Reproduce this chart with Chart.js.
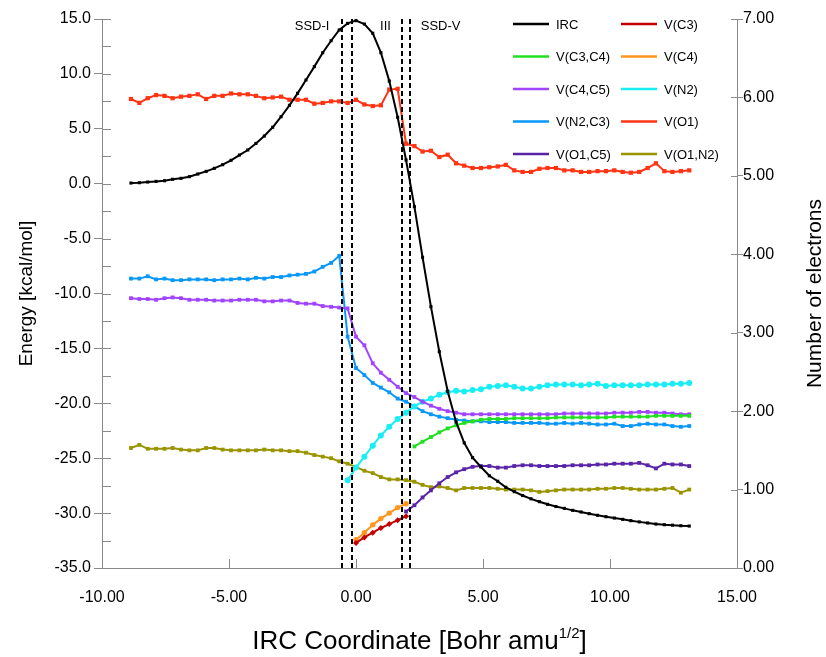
<!DOCTYPE html>
<html>
<head>
<meta charset="utf-8">
<script src="https://cdn.jsdelivr.net/npm/chart.js@4.4.1/dist/chart.umd.min.js"></script>
<style>
  html, body { margin: 0; padding: 0; background: #fff; }
  #wrap { width: 826px; height: 657px; }
</style>
</head>
<body>
<div id="wrap"><canvas id="chart" width="826" height="657"></canvas></div>
<script>
// IRC coordinate of every point (Bohr amu^1/2)
const ircX = [-8.86, -8.53, -8.20, -7.87, -7.54, -7.22, -6.89, -6.56, -6.23, -5.90, -5.58, -5.25, -4.92, -4.59,
  -4.26, -3.94, -3.61, -3.28, -2.95, -2.62, -2.30, -1.97, -1.64, -1.31, -0.98, -0.66, -0.33, 0.00,
  0.33, 0.66, 0.98, 1.31, 1.64, 1.97, 2.30, 2.62, 2.95, 3.28, 3.61, 3.94, 4.26, 4.59, 4.92, 5.25,
  5.58, 5.90, 6.23, 6.56, 6.89, 7.22, 7.54, 7.87, 8.20, 8.53, 8.86, 9.18, 9.51, 9.84, 10.17, 10.50,
  10.82, 11.15, 11.48, 11.81, 12.14, 12.46, 12.79, 13.12];

// energy profile (kcal/mol), left axis
const ircEnergy = [0.06, 0.09, 0.15, 0.21, 0.27, 0.40, 0.49, 0.64, 0.88, 1.12, 1.40, 1.73, 2.13, 2.61,
  3.07, 3.67, 4.34, 5.14, 6.10, 7.14, 8.23, 9.44, 10.66, 11.93, 13.02, 14.00, 14.60, 14.85,
  14.54, 13.70, 11.93, 9.35, 6.05, 2.16, -2.09, -6.70, -11.20, -15.30, -18.90, -21.70, -23.60, -24.95,
  -25.80, -26.60, -27.10, -27.65, -28.05, -28.40, -28.70, -28.96, -29.20, -29.40, -29.57, -29.75,
  -29.90, -30.05, -30.20, -30.33, -30.45, -30.57, -30.69, -30.80, -30.90, -31.00, -31.06, -31.10,
  -31.15, -31.18];

// basin populations (electrons), right axis; each starts at the given index of ircX
const vC3 = [0.32, 0.39, 0.45, 0.51, 0.56, 0.61, 0.66];
const vC3Start = 27;
const vC3C4 = [1.55, 1.61, 1.67, 1.73, 1.78, 1.82, 1.85, 1.87, 1.89, 1.90, 1.90, 1.90, 1.91, 1.91, 1.91,
  1.91, 1.91, 1.92, 1.92, 1.92, 1.92, 1.92, 1.92, 1.92, 1.93, 1.93, 1.93, 1.93, 1.93, 1.94, 1.94, 1.94,
  1.94, 1.94];
const vC3C4Start = 34;
const vC4 = [0.36, 0.45, 0.55, 0.63, 0.70, 0.77, 0.82];
const vC4Start = 27;
const vC4C5 = [3.44, 3.43, 3.43, 3.42, 3.44, 3.45, 3.44, 3.42, 3.42, 3.42, 3.41, 3.41, 3.41, 3.42, 3.42,
  3.42, 3.40, 3.40, 3.41, 3.41, 3.38, 3.37, 3.37, 3.34, 3.33, 3.32,
  3.31, 2.95, 2.84, 2.61, 2.49, 2.40, 2.31,
  2.23, 2.18, 2.12, 2.07, 2.03, 2.00, 1.98, 1.96, 1.96, 1.96, 1.96, 1.96, 1.96, 1.96, 1.96, 1.96, 1.96,
  1.96, 1.96, 1.97, 1.97, 1.97, 1.97, 1.97, 1.97, 1.98, 1.98, 1.98, 1.99, 1.99, 1.98, 1.98, 1.97, 1.96, 1.96];
const vC4C5Start = 0;
const vN2 = [1.12, 1.28, 1.42, 1.56, 1.69, 1.80, 1.90,
  1.98, 2.06, 2.12, 2.16, 2.21, 2.24, 2.26, 2.25, 2.27, 2.28, 2.31, 2.32, 2.33, 2.31, 2.29, 2.29, 2.31,
  2.33, 2.34, 2.34, 2.34, 2.33, 2.34, 2.35, 2.32, 2.33, 2.33, 2.33, 2.33, 2.34, 2.34, 2.34, 2.35, 2.35, 2.36];
const vN2Start = 26;
const vN2C3 = [3.69, 3.69, 3.72, 3.68, 3.69, 3.67, 3.67, 3.68, 3.68, 3.68, 3.67, 3.68, 3.68, 3.69, 3.68,
  3.70, 3.69, 3.71, 3.71, 3.73, 3.74, 3.75, 3.78, 3.84, 3.89, 3.98,
  2.95, 2.55, 2.46, 2.36, 2.30, 2.24, 2.16,
  2.12, 2.06, 2.00, 1.96, 1.93, 1.91, 1.89, 1.88, 1.87, 1.87, 1.86, 1.86, 1.86, 1.85, 1.85, 1.85, 1.85,
  1.84, 1.84, 1.85, 1.84, 1.85, 1.84, 1.83, 1.83, 1.84, 1.81, 1.81, 1.83, 1.84, 1.83, 1.83, 1.81, 1.80, 1.81];
const vN2C3Start = 0;
const vO1 = [5.98, 5.93, 5.99, 6.03, 6.02, 5.99, 6.01, 6.02, 6.04, 5.98, 6.02, 6.02, 6.05, 6.04, 6.04,
  6.02, 5.99, 6.00, 6.01, 5.97, 5.97, 5.97, 5.92, 5.93, 5.95, 5.95, 5.93, 5.97, 5.91, 5.89, 5.90, 6.10, 6.11,
  5.41, 5.38, 5.31, 5.32, 5.24, 5.27, 5.16, 5.13, 5.10,
  5.10, 5.11, 5.12, 5.14, 5.07, 5.05, 5.05, 5.09, 5.10, 5.10, 5.07, 5.07, 5.05, 5.05, 5.06, 5.06, 5.07,
  5.05, 5.04, 5.05, 5.10, 5.16, 5.06, 5.05, 5.06, 5.07];
const vO1Start = 0;
const vO1C5 = [0.72, 0.80, 0.90, 0.99, 1.08, 1.16, 1.22, 1.26, 1.29, 1.30, 1.30, 1.28, 1.28, 1.30, 1.31,
  1.31, 1.30, 1.30, 1.30, 1.30, 1.31, 1.31, 1.31, 1.32, 1.32, 1.33, 1.33, 1.33, 1.34, 1.31, 1.27, 1.33,
  1.32, 1.32, 1.30];
const vO1C5Start = 33;
const vO1N2 = [1.53, 1.57, 1.52, 1.52, 1.52, 1.53, 1.51, 1.50, 1.50, 1.53, 1.53, 1.51, 1.50, 1.50, 1.50,
  1.50, 1.51, 1.50, 1.50, 1.49, 1.49, 1.47, 1.44, 1.42, 1.40, 1.36, 1.33, 1.29, 1.24, 1.21, 1.16, 1.13, 1.13,
  1.12, 1.10, 1.06, 1.03, 1.04, 1.02, 0.99, 1.02, 1.02, 1.02, 1.02, 1.01, 1.00, 1.00, 1.00, 0.99, 0.97,
  0.98, 0.99, 1.00, 1.00, 1.00, 1.00, 1.01, 1.01, 1.02, 1.02, 1.01, 1.00, 1.00, 1.00, 1.01, 1.02, 0.96, 1.00];
const vO1N2Start = 0;

// structural stability domain boundaries and their labels
const ssdBounds = [-0.55, -0.17, 1.80, 2.13];
const ssdLabels = ["SSD-I", "III", "SSD-V"];
const ssdLabelX = [-1.73, 1.16, 3.33];

const xTicks = { min: -10, max: 15, step: 5 };
const energyTicks = { min: -35, max: 15, step: 2.5 };
const electronTicks = { min: 0, max: 7, step: 1 };

const FONT = "'Liberation Sans', Arial, Helvetica, sans-serif";
const AXIS_GREY = "#8a8a8a";

function pts(values, start) {
  return values.map((v, k) => ({ x: ircX[start + k], y: v }));
}

function series(label, values, start, color, axis, extra) {
  return Object.assign({
    label,
    data: pts(values, start),
    yAxisID: axis,
    borderColor: color,
    backgroundColor: color,
    borderWidth: 2,
    pointStyle: "rect",
    pointRadius: 2.7,
    pointBorderWidth: 0,
    pointHoverRadius: 2.7,
    tension: 0
  }, extra || {});
}

const datasets = [
  series("IRC", ircEnergy, 0, "#000000", "y", { pointRadius: 2.2 }),
  series("V(C3)", vC3, vC3Start, "#c40000", "y1", { pointStyle: "rectRot", pointRadius: 3 }),
  series("V(C3,C4)", vC3C4, vC3C4Start, "#20e020", "y1"),
  series("V(C4)", vC4, vC4Start, "#ff961e", "y1", { pointStyle: "circle" }),
  series("V(C4,C5)", vC4C5, vC4C5Start, "#a044ff", "y1"),
  series("V(N2)", vN2, vN2Start, "#18eef4", "y1", { pointStyle: "circle", pointRadius: 3 }),
  series("V(N2,C3)", vN2C3, vN2C3Start, "#0a98f8", "y1"),
  series("V(O1)", vO1, vO1Start, "#ff3414", "y1", { pointRadius: 3 }),
  series("V(O1,C5)", vO1C5, vO1C5Start, "#5a24a8", "y1"),
  series("V(O1,N2)", vO1N2, vO1N2Start, "#9a9400", "y1")
];

// dashed SSD boundaries + their names
const ssdPlugin = {
  id: "ssd",
  afterDatasetsDraw(chart) {
    const { ctx, chartArea, scales } = chart;
    ctx.save();
    ctx.strokeStyle = "#000";
    ctx.lineWidth = 2;
    ctx.setLineDash([5, 3]);
    for (const b of ssdBounds) {
      const px = Math.round(scales.x.getPixelForValue(b));
      ctx.beginPath();
      ctx.moveTo(px, chartArea.bottom);
      ctx.lineTo(px, chartArea.top);
      ctx.stroke();
    }
    ctx.setLineDash([]);
    ctx.fillStyle = "#000";
    ctx.font = "13px " + FONT;
    ctx.textAlign = "center";
    ctx.textBaseline = "middle";
    ssdLabels.forEach((t, i) => {
      ctx.fillText(t, scales.x.getPixelForValue(ssdLabelX[i]), chartArea.top + 7);
    });
    ctx.restore();
  }
};

// tick marks pointing into the plot, like the original
const innerTicks = {
  id: "innerTicks",
  afterDraw(chart) {
    const { ctx, chartArea, scales } = chart;
    ctx.save();
    ctx.strokeStyle = AXIS_GREY;
    ctx.lineWidth = 1;
    ctx.beginPath();
    for (const t of scales.x.ticks) {
      const px = Math.round(scales.x.getPixelForValue(t.value)) + 0.5;
      ctx.moveTo(px, chartArea.bottom);
      ctx.lineTo(px, chartArea.bottom - 9);
    }
    for (const t of scales.y.ticks) {
      const py = Math.round(scales.y.getPixelForValue(t.value)) + 0.5;
      ctx.moveTo(chartArea.left, py);
      ctx.lineTo(chartArea.left + 9, py);
    }
    for (const t of scales.y1.ticks) {
      const py = Math.round(scales.y1.getPixelForValue(t.value)) + 0.5;
      ctx.moveTo(chartArea.right, py);
      ctx.lineTo(chartArea.right - 6, py);
    }
    ctx.stroke();
    ctx.restore();
  }
};

// two-column legend in the upper right
const legendPlugin = {
  id: "legendGrid",
  afterDraw(chart) {
    const { ctx } = chart;
    ctx.save();
    ctx.font = "13px " + FONT;
    ctx.textAlign = "left";
    ctx.textBaseline = "middle";
    chart.data.datasets.forEach((ds, i) => {
      const col = i % 2, row = Math.floor(i / 2);
      const x0 = 513 + col * 108;
      const y0 = 24 + row * 32.5;
      ctx.strokeStyle = ds.borderColor;
      ctx.lineWidth = 2.5;
      ctx.beginPath();
      ctx.moveTo(x0, y0);
      ctx.lineTo(x0 + 36, y0);
      ctx.stroke();
      ctx.fillStyle = "#000";
      ctx.fillText(ds.label, x0 + 43, y0 + 1);
    });
    ctx.restore();
  }
};

// axis titles (right one reads bottom-to-top, x title has a superscript)
const titlesPlugin = {
  id: "titles",
  afterDraw(chart) {
    const { ctx, chartArea } = chart;
    const midY = (chartArea.top + chartArea.bottom) / 2;
    ctx.save();
    ctx.fillStyle = "#000";
    ctx.textAlign = "center";
    ctx.textBaseline = "middle";
    for (const [t, x, size] of [["Energy [kcal/mol]", 27, 19], ["Number of electrons", 815, 21]]) {
      ctx.save();
      ctx.font = size + "px " + FONT;
      ctx.translate(x, midY);
      ctx.rotate(-Math.PI / 2);
      ctx.fillText(t, 0, 0);
      ctx.restore();
    }
    const main = "IRC Coordinate [Bohr amu";
    const sup = "1/2";
    const tail = "]";
    const big = "26px " + FONT, small = "15px " + FONT;
    ctx.font = big;
    const wMain = ctx.measureText(main).width;
    const wTail = ctx.measureText(tail).width;
    ctx.font = small;
    const wSup = ctx.measureText(sup).width;
    const total = wMain + wSup + wTail;
    let x = (chartArea.left + chartArea.right) / 2 - total / 2;
    const base = 649;
    ctx.textAlign = "left";
    ctx.textBaseline = "alphabetic";
    ctx.font = big;
    ctx.fillText(main, x, base);
    x += wMain;
    ctx.font = small;
    ctx.fillText(sup, x, base - 11);
    x += wSup;
    ctx.font = big;
    ctx.fillText(tail, x, base);
    ctx.restore();
  }
};

new Chart(document.getElementById("chart"), {
  type: "line",
  data: { datasets },
  options: {
    responsive: false,
    animation: false,
    layout: { padding: { top: 19, left: 0, right: 0, bottom: 0 } },
    plugins: { legend: { display: false }, tooltip: { enabled: false } },
    elements: { line: { fill: false } },
    scales: {
      x: {
        type: "linear",
        min: xTicks.min, max: xTicks.max,
        afterFit: (s) => { s.height = 89; },
        border: { display: true, color: AXIS_GREY, width: 1 },
        grid: { display: true, drawOnChartArea: false, drawTicks: false },
        ticks: {
          stepSize: xTicks.step, autoSkip: false, maxRotation: 0, padding: 20,
          color: "#000", font: { family: FONT, size: 16 },
          callback: (v) => Number(v).toFixed(2)
        }
      },
      y: {
        type: "linear", position: "left",
        min: energyTicks.min, max: energyTicks.max,
        afterFit: (s) => { s.width = 102; },
        border: { display: true, color: AXIS_GREY, width: 1 },
        grid: {
          display: true, drawOnChartArea: false, tickLength: 8,
          tickColor: (c) => (c.tick && Math.abs(c.tick.value % 5) < 1e-6 ? AXIS_GREY : "rgba(0,0,0,0)")
        },
        ticks: {
          stepSize: energyTicks.step, autoSkip: false, padding: 3,
          color: "#000", font: { family: FONT, size: 16 },
          callback: (v) => (Math.abs(v % 5) < 1e-6 ? Number(v).toFixed(1) : "")
        }
      },
      y1: {
        type: "linear", position: "right",
        min: electronTicks.min, max: electronTicks.max,
        afterFit: (s) => { s.width = 89; },
        border: { display: true, color: AXIS_GREY, width: 1 },
        grid: { display: true, drawOnChartArea: false, tickLength: 6, tickColor: AXIS_GREY },
        ticks: {
          stepSize: electronTicks.step, autoSkip: false, padding: 0,
          color: "#000", font: { family: FONT, size: 16 },
          callback: (v) => Number(v).toFixed(2)
        }
      }
    }
  },
  plugins: [ssdPlugin, innerTicks, legendPlugin, titlesPlugin]
});
</script>
</body>
</html>
